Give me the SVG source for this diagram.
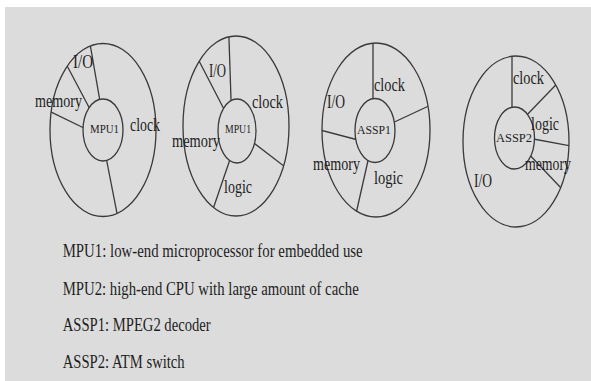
<svg xmlns="http://www.w3.org/2000/svg" width="591" height="381" viewBox="0 0 591 381">
  <style>
    .ring { fill: none; stroke: #3a3a3a; stroke-width: 1.3; }
    .core { fill: #dcdcdc; stroke: #3a3a3a; stroke-width: 1.3; }
    .div { stroke: #3a3a3a; stroke-width: 1.3; fill: none; }
    .lbl { font-family: "Liberation Serif", "Times New Roman", serif; font-size: 18px; fill: #1e1e1e; }
    .name { font-family: "Liberation Serif", "Times New Roman", serif; font-size: 12.5px; fill: #1e1e1e; }
    .note { font-family: "Liberation Serif", "Times New Roman", serif; font-size: 18.5px; fill: #1e1e1e; }
  </style>
  <defs>
    <clipPath id="clip-mpu1"><ellipse cx="103" cy="130" rx="53" ry="86.5"/></clipPath>
    <clipPath id="clip-mpu2"><ellipse cx="236" cy="126" rx="53" ry="90"/></clipPath>
    <clipPath id="clip-assp1"><ellipse cx="376" cy="130" rx="54" ry="87"/></clipPath>
    <clipPath id="clip-assp2"><ellipse cx="516" cy="141.5" rx="53" ry="85.5"/></clipPath>
  </defs>

  <!-- page background -->
  <rect x="0" y="0" width="591" height="381" fill="#ffffff"/>
  <rect x="5" y="7" width="586" height="374" fill="#dcdcdc"/>

  <!-- MPU1 die -->
  <g id="die-mpu1">
    <ellipse class="ring" cx="103" cy="130" rx="53" ry="86.5"/>
    <g class="div" clip-path="url(#clip-mpu1)">
      <line x1="101" y1="107" x2="89" y2="38"/>
      <line x1="92" y1="113" x2="64" y2="60"/>
      <line x1="88" y1="130" x2="46" y2="109.5"/>
      <line x1="105" y1="152" x2="118.5" y2="221"/>
    </g>
    <ellipse class="core" cx="103" cy="130" rx="20" ry="31"/>
    <text class="name" x="90" y="132.5" textLength="29" lengthAdjust="spacingAndGlyphs">MPU1</text>
    <text class="lbl" x="73" y="68" textLength="20" lengthAdjust="spacingAndGlyphs">I/O</text>
    <text class="lbl" x="35" y="107" textLength="47" lengthAdjust="spacingAndGlyphs">memory</text>
    <text class="lbl" x="130" y="131" textLength="30" lengthAdjust="spacingAndGlyphs">clock</text>
  </g>

  <!-- MPU2 die -->
  <g id="die-mpu2">
    <ellipse class="ring" cx="236" cy="126" rx="53" ry="90"/>
    <g class="div" clip-path="url(#clip-mpu2)">
      <line x1="231.3" y1="108" x2="228.7" y2="30"/>
      <line x1="227" y1="115" x2="197" y2="57"/>
      <line x1="250" y1="140" x2="291" y2="171.5"/>
      <line x1="231.5" y1="155" x2="211" y2="215"/>
    </g>
    <ellipse class="core" cx="237" cy="131" rx="19" ry="32"/>
    <text class="name" x="225" y="133" textLength="26" lengthAdjust="spacingAndGlyphs">MPU1</text>
    <text class="lbl" x="209" y="77" textLength="17" lengthAdjust="spacingAndGlyphs">I/O</text>
    <text class="lbl" x="252" y="108" textLength="31" lengthAdjust="spacingAndGlyphs">clock</text>
    <text class="lbl" x="172" y="147" textLength="48" lengthAdjust="spacingAndGlyphs">memory</text>
    <text class="lbl" x="224" y="193" textLength="28" lengthAdjust="spacingAndGlyphs">logic</text>
  </g>

  <!-- ASSP1 die -->
  <g id="die-assp1">
    <ellipse class="ring" cx="376" cy="130" rx="54" ry="87"/>
    <g class="div" clip-path="url(#clip-assp1)">
      <line x1="373" y1="105" x2="373" y2="38"/>
      <line x1="388" y1="125" x2="434" y2="103.5"/>
      <line x1="362" y1="141" x2="318" y2="129.5"/>
      <line x1="369.5" y1="154" x2="355.5" y2="216"/>
    </g>
    <ellipse class="core" cx="375" cy="130.5" rx="20" ry="32"/>
    <text class="name" x="357" y="134" textLength="34" lengthAdjust="spacingAndGlyphs">ASSP1</text>
    <text class="lbl" x="374" y="91" textLength="31" lengthAdjust="spacingAndGlyphs">clock</text>
    <text class="lbl" x="327" y="108" textLength="18" lengthAdjust="spacingAndGlyphs">I/O</text>
    <text class="lbl" x="313" y="170" textLength="47" lengthAdjust="spacingAndGlyphs">memory</text>
    <text class="lbl" x="374" y="184" textLength="29" lengthAdjust="spacingAndGlyphs">logic</text>
  </g>

  <!-- ASSP2 die -->
  <g id="die-assp2">
    <ellipse class="ring" cx="516" cy="141.5" rx="53" ry="85.5"/>
    <g class="div" clip-path="url(#clip-assp2)">
      <line x1="512" y1="115" x2="512" y2="50"/>
      <line x1="523" y1="119" x2="562" y2="78.5"/>
      <line x1="528" y1="138" x2="574" y2="146.5"/>
      <line x1="524" y1="149" x2="562" y2="189"/>
    </g>
    <ellipse class="core" cx="514.5" cy="138" rx="20" ry="31"/>
    <text class="name" x="496" y="141.5" textLength="36" lengthAdjust="spacingAndGlyphs">ASSP2</text>
    <text class="lbl" x="513" y="84" textLength="31" lengthAdjust="spacingAndGlyphs">clock</text>
    <text class="lbl" x="531" y="130" textLength="28" lengthAdjust="spacingAndGlyphs">logic</text>
    <text class="lbl" x="525" y="170" textLength="46" lengthAdjust="spacingAndGlyphs">memory</text>
    <text class="lbl" x="474" y="187" textLength="18" lengthAdjust="spacingAndGlyphs">I/O</text>
  </g>

  <!-- legend -->
  <g id="legend">
    <text class="note" x="62.7" y="257" textLength="300" lengthAdjust="spacingAndGlyphs">MPU1: low-end microprocessor for embedded use</text>
    <text class="note" x="62.7" y="295" textLength="296" lengthAdjust="spacingAndGlyphs">MPU2: high-end CPU with large amount of cache</text>
    <text class="note" x="62.7" y="331" textLength="148" lengthAdjust="spacingAndGlyphs">ASSP1: MPEG2 decoder</text>
    <text class="note" x="62.7" y="368" textLength="122" lengthAdjust="spacingAndGlyphs">ASSP2: ATM switch</text>
  </g>
</svg>
